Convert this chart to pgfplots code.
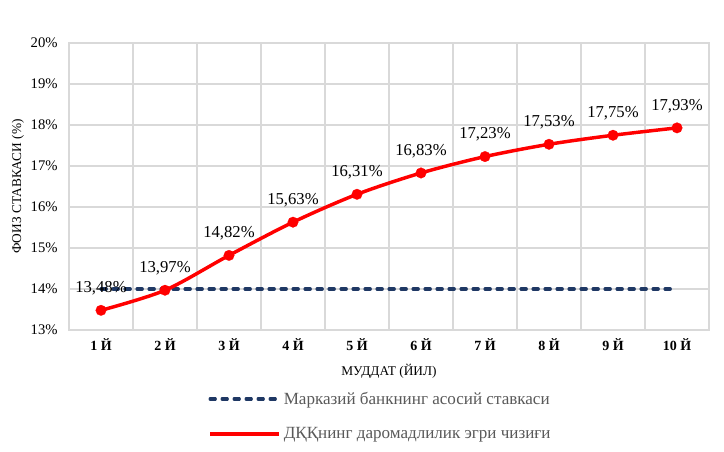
\documentclass[border=0pt]{standalone}
\usepackage{pgfplots}
\pgfplotsset{compat=1.18}
\usepackage{fontspec}
\setmainfont{Liberation Serif}
\definecolor{navy}{HTML}{1F3864}
\definecolor{gridg}{HTML}{D9D9D9}
\definecolor{txtg}{HTML}{595959}
\begin{document}
\begin{tikzpicture}[x=0.75pt,y=0.75pt]
\useasboundingbox (0,0) rectangle (724,451);
\begin{axis}[
  at={(69*0.75pt,121*0.75pt)}, anchor=south west,
  scale only axis, width=480pt, height=215.25pt,
  xmin=0.5, xmax=10.5, ymin=13, ymax=20,
  xtick={1,...,10},
  xticklabels={1 Й,2 Й,3 Й,4 Й,5 Й,6 Й,7 Й,8 Й,9 Й,10 Й},
  minor xtick={0.5,1.5,...,10.5},
  xmajorgrids=false, xminorgrids=true, ymajorgrids=true,
  major x tick style={draw=none}, minor tick length=0pt,
  ytick={13,...,20},
  yticklabel={\pgfmathprintnumber{\tick}\%},
  /pgf/number format/assume math mode=true,
  tick style={draw=none},
  grid style={gridg, line width=0.9pt},
  minor grid style={gridg, line width=0.9pt},
  axis line style={gridg, line width=0.9pt},
  tick label style={font=\fontsize{11}{13}\selectfont, text=black},
  yticklabel style={xshift=-5pt},
  xticklabel style={font=\fontsize{10.5}{12}\selectfont\bfseries, yshift=-3pt},
  xlabel={МУДДАТ (ЙИЛ)}, ylabel={ФОИЗ СТАВКАСИ (\%)},
  label style={font=\fontsize{10}{12}\selectfont},
  xlabel style={at={(axis description cs:0.5,-0.143)}, anchor=center},
  ylabel style={at={(axis description cs:-0.08,0.5)}, anchor=center},
  legend style={at={(0.211,-0.196)}, anchor=north west, draw=none, fill=none,
    font=\fontsize{12.8}{14}\selectfont, text=txtg, row sep=12pt,
    /tikz/every even column/.append style={column sep=0pt}},
  legend cell align=left,
  legend image code/.code={\draw[#1] (0pt,0pt) -- (52pt,0pt);},
]
\addplot[navy, line width=2.3pt, dash pattern=on 4pt off 5pt, line cap=round]
  coordinates {(1,14) (2,14) (3,14) (4,14) (5,14) (6,14) (7,14) (8,14) (9,14) (10,14)};
\addlegendentry{Марказий банкнинг асосий ставкаси}
\addplot[red, line width=2.6pt, smooth, tension=0.5, mark=*, mark size=4pt,
  mark options={solid, fill=red, draw=red, line width=0.1pt},
  point meta=explicit symbolic,
  nodes near coords, nodes near coords align={above},
  every node near coord/.append style={font=\fontsize{12.5}{14}\selectfont, text=black, yshift=8pt}]
  table[meta=lab] {
x y lab
1 13.48 13,48\%
2 13.97 13,97\%
3 14.82 14,82\%
4 15.63 15,63\%
5 16.31 16,31\%
6 16.83 16,83\%
7 17.23 17,23\%
8 17.53 17,53\%
9 17.75 17,75\%
10 17.93 17,93\%
};
\addlegendentry{ДҚҚнинг даромадлилик эгри чизиғи}
\end{axis}
\end{tikzpicture}
\end{document}
